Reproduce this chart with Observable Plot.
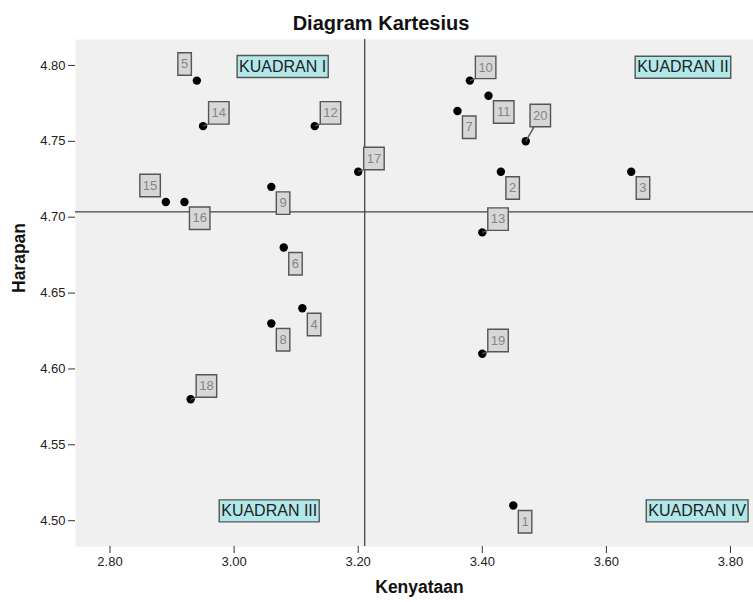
<!DOCTYPE html>
<html><head><meta charset="utf-8">
<script src="https://cdn.jsdelivr.net/npm/d3@7"></script>
<script src="https://cdn.jsdelivr.net/npm/@observablehq/plot@0.6"></script>
<style>
body{margin:0;background:#fff;font-family:"Liberation Sans",Arial,sans-serif;overflow:hidden;}
#title{height:39px;box-sizing:border-box;padding-top:13px;padding-left:9px;text-align:center;font-weight:bold;font-size:20px;line-height:20px;color:#111;width:753px;}
</style></head><body>
<div id="title">Diagram Kartesius</div>
<div id="chart"></div>
<script>
// ---- data ----
const respondentIds = [1,2,3,4,5,6,7,8,9,10,11,12,13,14,15,16,17,18,19,20];
const kenyataan = [3.45,3.43,3.64,3.11,2.94,3.08,3.36,3.06,3.06,3.38,3.41,3.13,3.40,2.95,2.89,2.92,3.20,2.93,3.40,3.47];
const harapan   = [4.51,4.73,4.73,4.64,4.79,4.68,4.77,4.63,4.72,4.79,4.78,4.76,4.69,4.76,4.71,4.71,4.73,4.58,4.61,4.75];
const labelPlacement = ["lr","lr","lr","lr","ul","lr","lr","lr","lr","ur","lr","ur","ur","ur","ul","lr","ur","ur","ur","urHigh"];
const quadrantNames = ["KUADRAN I","KUADRAN II","KUADRAN III","KUADRAN IV"];
const quadrantKenyataan = [3.0783,3.7234,3.0566,3.7463];
const quadrantHarapan = [4.7993,4.7988,4.5065,4.5065];
const xTicks = [2.80,3.00,3.20,3.40,3.60,3.80];
const yTicks = [4.50,4.55,4.60,4.65,4.70,4.75,4.80];
const xLabel = "Kenyataan";
const yLabel = "Harapan";

// ---- build ----
const FONT = '"Liberation Sans", Arial, sans-serif';
const points = respondentIds.map((id, i) => ({id, x: kenyataan[i], y: harapan[i], pos: labelPlacement[i]}));
const quads = quadrantNames.map((name, i) => ({name, x: quadrantKenyataan[i], y: quadrantHarapan[i]}));
const meanX = d3.mean(kenyataan);
const meanY = d3.mean(harapan);

function boxSymbol(x0, y0, w, h, lead) {
  return {draw(ctx) {
    if (lead) { ctx.moveTo(0, 0); ctx.lineTo(lead[0], lead[1]); }
    ctx.rect(x0, y0, w, h);
  }};
}
const H = 22.5, W1 = 13.5, W2 = 20.5;
const groups = [];
for (const digits of [1, 2]) {
  const w = digits === 1 ? W1 : W2;
  groups.push({pos: "lr", digits, sym: boxSymbol(5, 5, w, H), tx: 5 + w / 2, ty: 5 + H / 2});
  groups.push({pos: "ur", digits, sym: boxSymbol(5.5, -24.5, w, H, [5.5, -2]), tx: 5.5 + w / 2, ty: -24.5 + H / 2});
  groups.push({pos: "ul", digits, sym: boxSymbol(-5.5 - w, -27.8, w, H), tx: -5.5 - w / 2, ty: -27.8 + H / 2});
  groups.push({pos: "urHigh", digits, sym: boxSymbol(4.3, -37, w, H, [8.3, -14.5]), tx: 4.3 + w / 2, ty: -37 + H / 2});
}
const labelMarks = groups.flatMap(g => {
  const filter = d => d.pos === g.pos && String(d.id).length === g.digits;
  return [
    Plot.dot(points, {filter, x: "x", y: "y", symbol: g.sym, fill: "#d7d7d7", stroke: "#555", strokeWidth: 1.4}),
    Plot.text(points, {filter, x: "x", y: "y", text: d => String(d.id), dx: g.tx, dy: g.ty, fill: "#858585", fontSize: 13, fontFamily: FONT})
  ];
});

const canvas = document.createElement("canvas");
const cx = canvas.getContext("2d");
cx.font = "16px " + FONT;
const quadMarks = quads.flatMap(q => {
  const w = cx.measureText(q.name).width + 4;
  return [
    Plot.dot([q], {x: "x", y: "y", symbol: boxSymbol(-w / 2, -11, w, 22), fill: "#b2e8ea", stroke: "#555", strokeWidth: 1.4}),
    Plot.text([q], {x: "x", y: "y", text: "name", fill: "#222", fontSize: 16, fontFamily: FONT})
  ];
});

const chart = Plot.plot({
  width: 753,
  height: 563,
  marginTop: 0,
  marginLeft: 75,
  marginRight: 0,
  marginBottom: 56,
  style: {fontFamily: FONT, fontSize: "13px", color: "#222", background: "#fff"},
  x: {domain: [2.7444, 3.8371]},
  y: {domain: [4.4830, 4.8171]},
  marks: [
    Plot.frame({fill: "#f0f0f0", stroke: "none"}),
    Plot.axisX({ticks: xTicks, tickFormat: d3.format(".2f"), tickSize: 7, tickPadding: 3, label: null, fontSize: 13, stroke: "#333"}),
    Plot.axisY({ticks: yTicks, tickFormat: d3.format(".2f"), tickSize: 7, tickPadding: 3, label: null, fontSize: 13, stroke: "#333"}),
    Plot.text([xLabel], {frameAnchor: "bottom", dx: 5, dy: 46, fontSize: 17.5, fontWeight: "bold", fill: "#111", fontFamily: FONT}),
    Plot.text([yLabel], {frameAnchor: "left", dx: -56, rotate: -90, fontSize: 17.5, fontWeight: "bold", fill: "#111", fontFamily: FONT}),
    Plot.ruleX([meanX], {stroke: "#444", strokeWidth: 1.3}),
    Plot.ruleY([meanY], {stroke: "#444", strokeWidth: 1.3}),
    Plot.dot(points, {x: "x", y: "y", r: 4.2, fill: "#000"}),
    ...labelMarks,
    ...quadMarks
  ]
});
document.getElementById("chart").appendChild(chart);
</script>
</body></html>
